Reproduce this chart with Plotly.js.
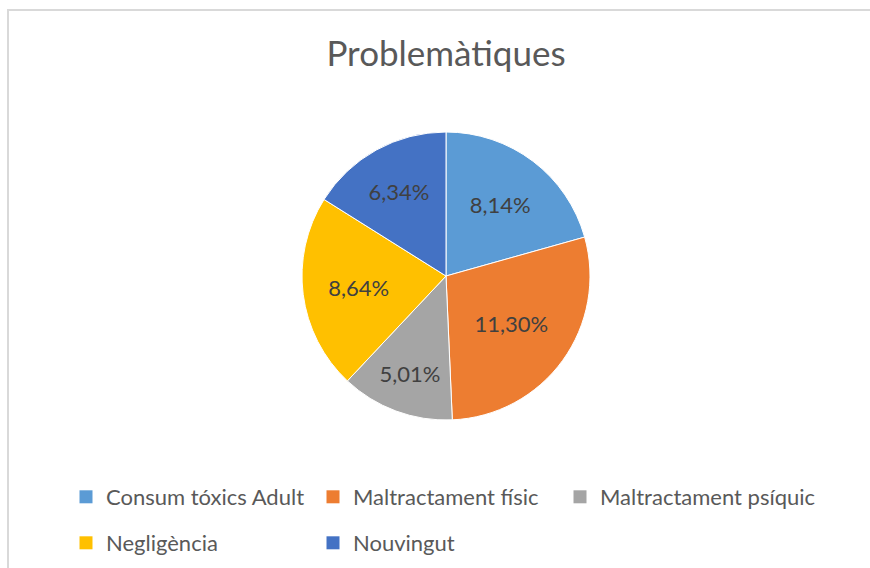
<!DOCTYPE html>
<html>
<head>
<meta charset="utf-8">
<script src="https://cdn.plot.ly/plotly-3.0.1.min.js"></script>
<style>html,body{margin:0;padding:0;background:#fff;} #chart{width:870px;height:568px;}</style>
</head>
<body>
<div id="chart"></div>
<script>
const chartTitle = 'Problemàtiques';
const labels = ['Consum tóxics Adult', 'Maltractament físic', 'Maltractament psíquic', 'Negligència', 'Nouvingut'];
const values = [8.14, 11.30, 5.01, 8.64, 6.34];
const colors = ['#5B9BD5', '#ED7D31', '#A5A5A5', '#FFC000', '#4472C4'];
const legendSlot = ['legend', 'legend', 'legend3', 'legend2', 'legend2'];

const W = 870, H = 568;
const FONT = 'Lato, "Open Sans", sans-serif';
const textLabels = values.map(v => v.toFixed(2).replace('.', ',') + '%');

const cx = 446, cy = 276, R = 144;

const pie = {
  type: 'pie',
  labels: labels,
  values: values,
  text: textLabels,
  textinfo: 'text',
  textposition: 'inside',
  insidetextorientation: 'horizontal',
  sort: false,
  direction: 'clockwise',
  rotation: 0,
  marker: {colors: colors, line: {color: '#ffffff', width: 1}},
  textfont: {family: FONT, size: 22, color: '#404040'},
  showlegend: false,
  hoverinfo: 'label+text',
  domain: {x: [(cx - R) / W, (cx + R) / W], y: [(H - cy - R) / H, (H - cy + R) / H]}
};

const legendTraces = labels.map((lab, i) => ({
  type: 'scatter', mode: 'markers', x: [null], y: [null], name: lab,
  marker: {symbol: 'square', size: 13, color: colors[i]},
  legend: legendSlot[i], showlegend: true, hoverinfo: 'skip'
}));

const legendStyle = {
  orientation: 'h', xanchor: 'left', yanchor: 'middle',
  font: {family: FONT, size: 22, color: '#595959'},
  entrywidth: 202, entrywidthmode: 'pixels',
  bgcolor: 'rgba(0,0,0,0)', borderwidth: 0, itemclick: false, itemdoubleclick: false
};

const layout = {
  width: W, height: H,
  margin: {l: 0, r: 0, t: 0, b: 0},
  paper_bgcolor: '#ffffff', plot_bgcolor: '#ffffff',
  title: {text: chartTitle, x: 446 / W, xanchor: 'center', y: 1 - 54 / H, yanchor: 'middle',
          font: {family: FONT, size: 35, color: '#595959'}},
  xaxis: {visible: false}, yaxis: {visible: false},
  legend: Object.assign({}, legendStyle, {x: 66 / W, y: 1 - 497 / H}),
  legend2: Object.assign({}, legendStyle, {x: 66 / W, y: 1 - 543 / H}),
  legend3: Object.assign({}, legendStyle, {x: 560 / W, y: 1 - 497 / H, entrywidth: 260}),
  shapes: [{type: 'rect', xref: 'paper', yref: 'paper', x0: 8 / W, x1: 1.2, y0: -0.2, y1: 1 - 10 / H,
            line: {color: '#d9d9d9', width: 2}, fillcolor: 'rgba(0,0,0,0)', layer: 'below'}],
  showlegend: true
};

Plotly.newPlot('chart', [pie].concat(legendTraces), layout, {displayModeBar: false, staticPlot: true});
</script>
</body>
</html>
